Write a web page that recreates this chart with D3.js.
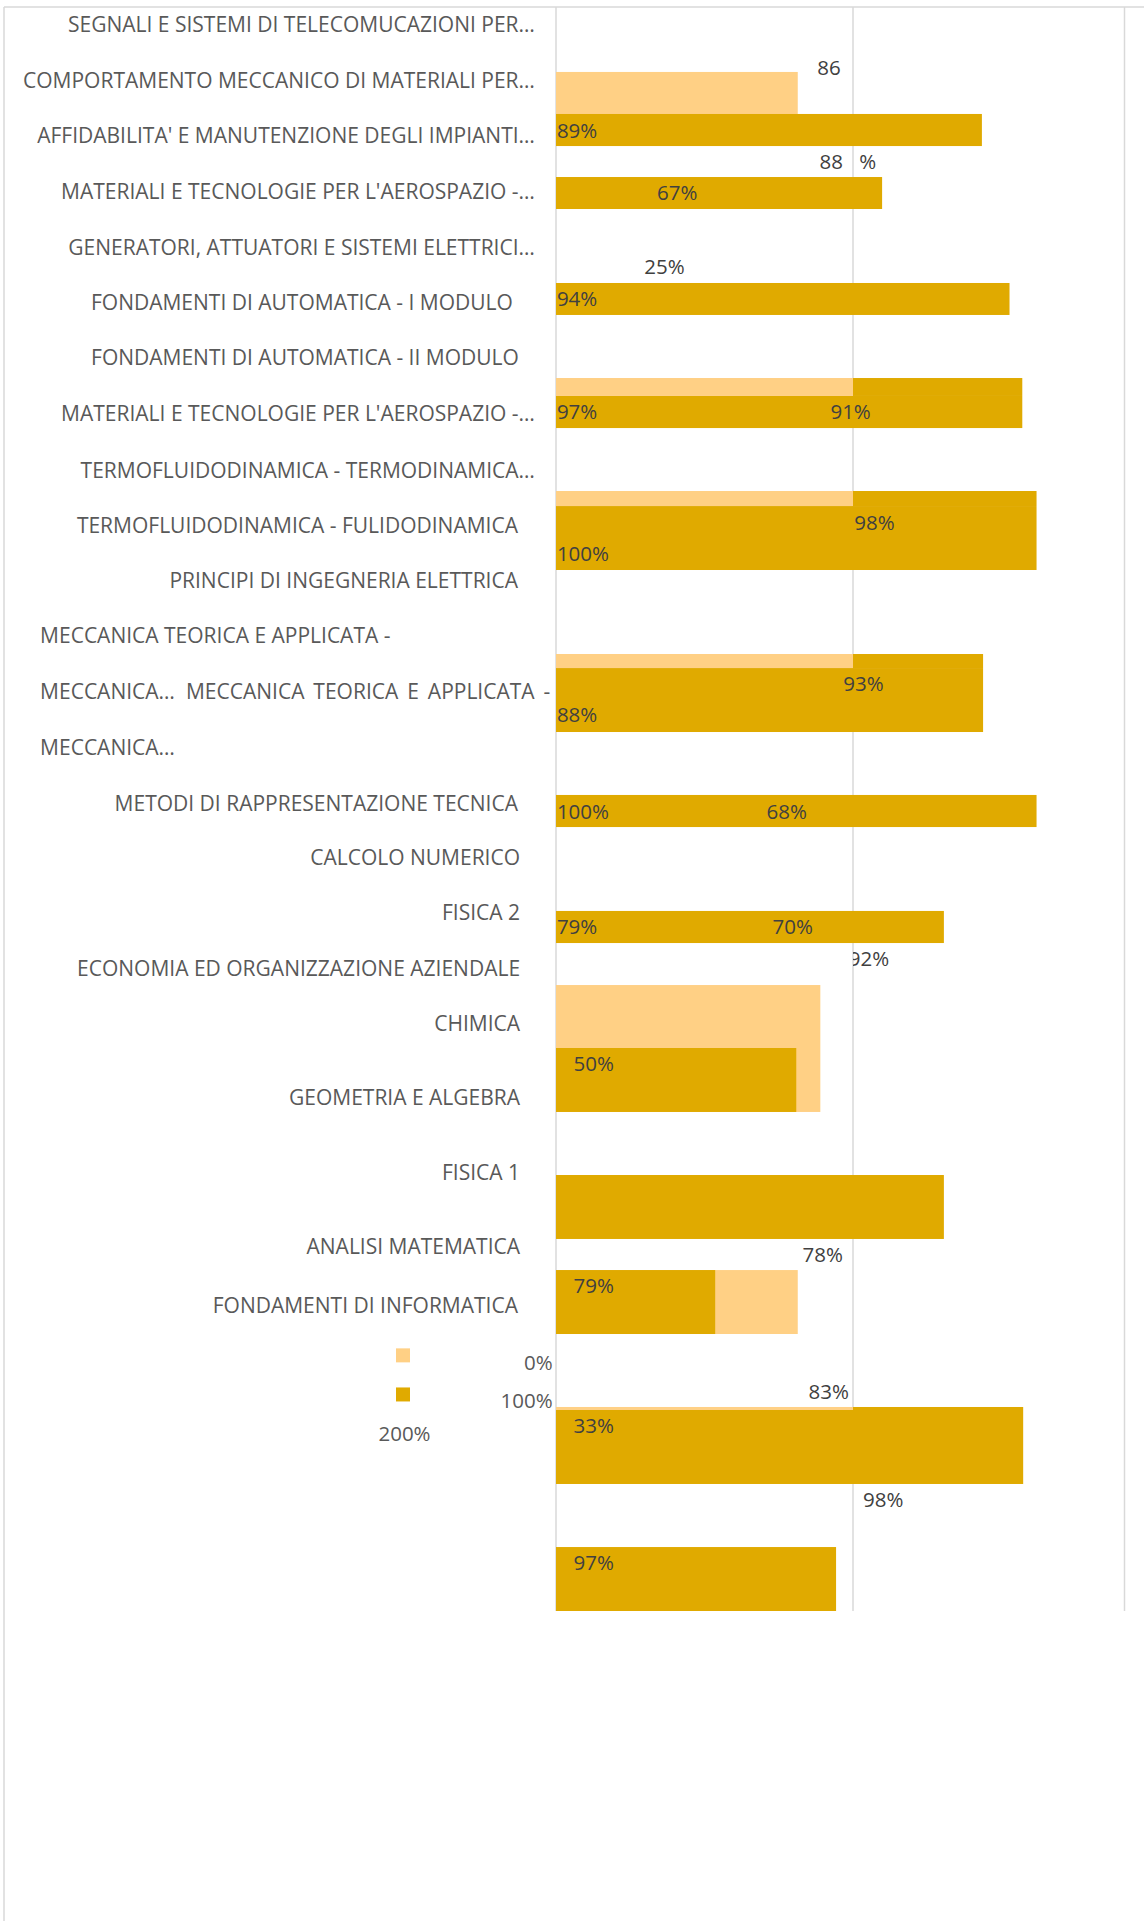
<!DOCTYPE html>
<html>
<head>
<meta charset="utf-8">
<script src="https://cdn.jsdelivr.net/npm/d3@7"></script>
<style>
  body { margin: 0; background: #fff; }
  svg { display: block; font-family: "Open Sans", sans-serif; }
</style>
</head>
<body>
<div id="chart"></div>
<script>
"use strict"

// category labels (x in % of the value axis, y in slot units)
const catNames = [
  "SEGNALI E SISTEMI DI TELECOMUCAZIONI PER…",
  "COMPORTAMENTO MECCANICO DI MATERIALI PER…",
  "AFFIDABILITA' E MANUTENZIONE DEGLI IMPIANTI…",
  "MATERIALI E TECNOLOGIE PER L'AEROSPAZIO -…",
  "GENERATORI, ATTUATORI E SISTEMI ELETTRICI…",
  "FONDAMENTI DI AUTOMATICA - I MODULO",
  "FONDAMENTI DI AUTOMATICA - II MODULO",
  "MATERIALI E TECNOLOGIE PER L'AEROSPAZIO -…",
  "TERMOFLUIDODINAMICA - TERMODINAMICA…",
  "TERMOFLUIDODINAMICA - FULIDODINAMICA",
  "PRINCIPI DI INGEGNERIA ELETTRICA",
  "MECCANICA TEORICA E APPLICATA -",
  "MECCANICA…",
  "MECCANICA…",
  "METODI DI RAPPRESENTAZIONE TECNICA",
  "CALCOLO NUMERICO",
  "FISICA 2",
  "ECONOMIA ED ORGANIZZAZIONE AZIENDALE",
  "CHIMICA",
  "GEOMETRIA E ALGEBRA",
  "FISICA 1",
  "ANALISI MATEMATICA",
  "FONDAMENTI DI INFORMATICA"
];
const catAnchor = ["end","end","end","end","end","end","end","end","end","end","end",
  "start","start","start","end","end","end","end","end","end","end","end","end"];
const catX = [-7.1,-7.1,-7.1,-7.1,-7.1,-14.5,-12.5,-7.1,-7.1,-12.8,-12.8,
  -173.7,-173.7,-173.7,-12.8,-12.1,-12.1,-12.1,-12.1,-12.1,-12.1,-12.1,-12.8];
const catY = [1.70,7.28,12.77,18.35,23.94,29.43,34.91,40.50,46.18,51.67,57.16,
  62.64,68.23,73.82,79.40,84.79,90.27,95.86,101.35,108.73,116.21,123.59,129.48];
// the overflowing second half of the "MECCANICA" line
const spillText = "MECCANICA TEORICA E APPLICATA -";
const spillX = -124.6;

// bar segments, drawn in this order
const barSeries = ["light","dark","dark","dark","dark","light","dark","dark","light","dark",
  "dark","light","dark","dark","dark","light","dark","dark","light","dark","dark","light","dark"];
const barFrom = [0,0,0,0,0,0,100,0,0,100,0,0,100,0,0,0,0,0,0,0,0,0,0];
const barTo = [81.4,143.4,109.8,152.7,157,100,157,161.8,100,161.8,
  143.8,100,143.8,161.8,130.6,89,80.9,130.6,81.4,53.6,157.3,100,94.3];
const barTop = [6.48,10.67,16.96,27.53,38.80,37.01,37.01,49.78,48.28,48.28,
  65.94,64.54,64.54,78.60,90.17,97.56,103.84,116.51,125.99,125.99,139.65,139.65,153.62];
const barBottom = [10.67,13.87,20.15,30.72,42.0,38.80,38.80,56.16,49.78,49.78,
  72.32,65.94,65.94,81.80,93.37,110.22,110.22,122.89,132.37,132.37,147.33,139.95,160];

// data labels
const lblText = ["86","89%","88","%","67%","25%","94%","97%","91%","98%","100%","93%","88%",
  "100%","68%","79%","70%","92%","50%","78%","79%","83%","33%","98%","97%"];
const lblX = [88.0,0.3,88.7,102.1,34.0,29.7,0.3,0.3,92.4,100.4,0.3,96.7,0.3,
  0.3,70.9,0.3,72.9,98.6,5.9,83.0,5.9,85.0,5.9,103.4,5.9];
const lblY = [6.08,12.37,15.46,15.46,18.55,25.94,29.13,40.40,40.40,51.47,54.56,67.53,70.62,
  80.30,80.30,91.77,91.77,94.96,105.44,124.49,127.58,138.15,141.55,148.93,155.21];

// stray tick labels and legend
const tickText = ["0%","100%","200%"];
const tickX = [-1.1,-1.1,-51];
const tickY = [135.2,139.0,142.3];
const tickAnchor = ["end","end","middle"];
const legendSeries = ["light","dark"];
const legendY = [134.5,138.4];

const colors = {light: "#FFD085", dark: "#E0AA00"};

const W = 1144, H = 1921;
const svg = d3.select("#chart").append("svg")
  .attr("width", W).attr("height", H);

const x = d3.scaleLinear().domain([0, 100]).range([556, 853]);
const y = d3.scaleLinear().domain([0, 160]).range([7, 1611]);

// outer frame
svg.append("line").attr("x1", 4).attr("x2", W).attr("y1", 7).attr("y2", 7)
  .attr("stroke", "#d9d9d9").attr("stroke-width", 1.5);
svg.append("line").attr("x1", 4).attr("x2", 4).attr("y1", 7).attr("y2", H)
  .attr("stroke", "#d9d9d9").attr("stroke-width", 1.5);
svg.append("line").attr("x1", 1124.5).attr("x2", 1124.5).attr("y1", 7).attr("y2", y(160))
  .attr("stroke", "#d9d9d9").attr("stroke-width", 1.5);

// gridlines at 0% and 100%
svg.append("g").selectAll("line").data([0, 100]).join("line")
  .attr("x1", d => x(d)).attr("x2", d => x(d))
  .attr("y1", y(0)).attr("y2", y(160))
  .attr("stroke", "#d9d9d9").attr("stroke-width", 1.5);

// bars
svg.append("g").selectAll("rect").data(barSeries).join("rect")
  .attr("x", (d, i) => x(barFrom[i]))
  .attr("width", (d, i) => x(barTo[i]) - x(barFrom[i]))
  .attr("y", (d, i) => y(barTop[i]))
  .attr("height", (d, i) => y(barBottom[i]) - y(barTop[i]))
  .attr("fill", d => colors[d]);

// category labels
svg.append("g").selectAll("text").data(catNames).join("text")
  .attr("x", (d, i) => x(catX[i]))
  .attr("y", (d, i) => y(catY[i]))
  .attr("dy", "0.36em")
  .attr("text-anchor", (d, i) => catAnchor[i])
  .attr("fill", "#595959")
  .style("font-size", "21px")
  .text(d => d);

svg.append("text")
  .attr("x", x(spillX)).attr("y", y(catY[12])).attr("dy", "0.36em")
  .attr("fill", "#595959").style("font-size", "21px")
  .style("word-spacing", "3.5px")
  .text(spillText);

// data labels; the "92%" one is cut at the 100% gridline
svg.append("defs").append("clipPath").attr("id", "cut")
  .append("rect").attr("x", x(100)).attr("y", 0).attr("width", 400).attr("height", H);
svg.append("g").selectAll("text").data(lblText).join("text")
  .attr("x", (d, i) => x(lblX[i]))
  .attr("y", (d, i) => y(lblY[i]))
  .attr("dy", "0.36em")
  .attr("fill", "#404040")
  .attr("clip-path", (d, i) => i === 17 ? "url(#cut)" : null)
  .style("font-size", "20.5px")
  .text(d => d);

// legend swatches
svg.append("g").selectAll("rect").data(legendSeries).join("rect")
  .attr("x", 396).attr("width", 14)
  .attr("y", (d, i) => y(legendY[i]) - 7).attr("height", 14)
  .attr("fill", d => colors[d]);

// misplaced axis tick labels
svg.append("g").selectAll("text").data(tickText).join("text")
  .attr("x", (d, i) => x(tickX[i]))
  .attr("y", (d, i) => y(tickY[i]))
  .attr("dy", "0.36em")
  .attr("text-anchor", (d, i) => tickAnchor[i])
  .attr("fill", "#595959")
  .style("font-size", "20.5px")
  .text(d => d);
</script>
</body>
</html>
